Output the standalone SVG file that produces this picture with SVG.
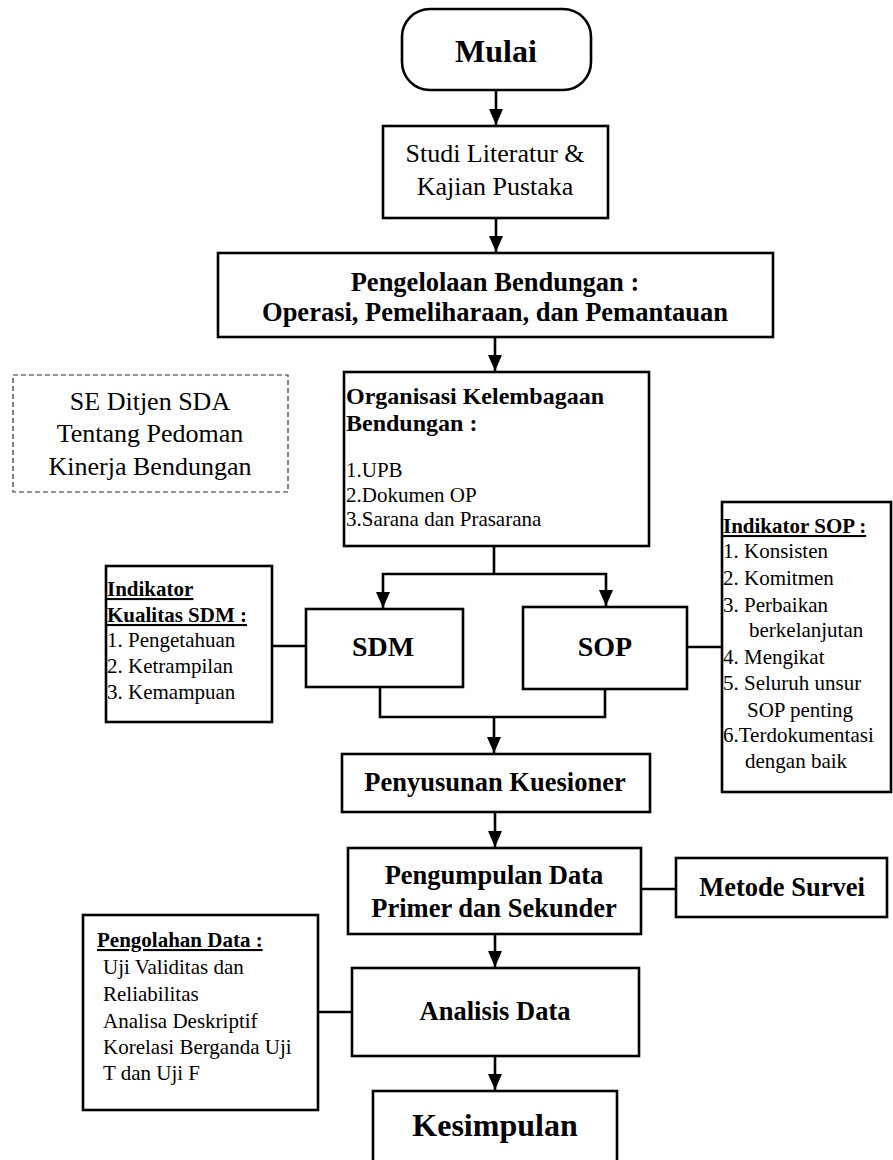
<svg xmlns="http://www.w3.org/2000/svg" width="893" height="1160" viewBox="0 0 893 1160" font-family="'Liberation Serif', 'Times New Roman', 'DejaVu Serif', serif">
<style>
text{font-family:'Liberation Serif','Times New Roman','DejaVu Serif',serif;fill:#000}
.box{fill:#fff;stroke:#000;stroke-width:2.6}
.dash{fill:#fff;stroke:#333;stroke-width:1.2;stroke-dasharray:5 3}
.b{font-weight:bold}
.m{font-size:26.5px;text-anchor:middle}
.r26{font-size:26px;text-anchor:middle}
.s{font-size:21px}
.u{text-decoration:underline}
.ln{fill:none;stroke:#000;stroke-width:2.6}
.ar{fill:none;stroke:#000;stroke-width:2.6;marker-end:url(#ah)}
</style>
<defs>
<marker id="ah" markerUnits="userSpaceOnUse" markerWidth="16" markerHeight="14" refX="16" refY="7" orient="auto" viewBox="0 0 16 14">
<path d="M0,0 L16,7 L0,14 Z" fill="#000"/>
</marker>
</defs>
<rect width="893" height="1160" fill="#fff"/>

<g id="mulai">
<rect class="box" x="402" y="9" width="189" height="81" rx="28" ry="28"/>
<text class="b" x="496" y="62" font-size="32" text-anchor="middle">Mulai</text>
</g>

<g id="studi">
<rect class="box" x="383" y="126" width="225" height="92"/>
<text class="r26" x="495" y="162">Studi Literatur &amp;</text>
<text class="r26" x="495" y="195">Kajian Pustaka</text>
</g>

<g id="pengelolaan">
<rect class="box" x="218" y="253" width="555" height="84"/>
<text class="b m" x="495" y="291">Pengelolaan Bendungan :</text>
<text class="b m" x="495" y="321">Operasi, Pemeliharaan, dan Pemantauan</text>
</g>

<g id="se-ditjen">
<rect class="dash" x="13" y="375" width="275" height="117"/>
<text class="r26" x="150" y="410">SE Ditjen SDA</text>
<text class="r26" x="150" y="442">Tentang Pedoman</text>
<text class="r26" x="150" y="475">Kinerja Bendungan</text>
</g>

<g id="organisasi">
<rect class="box" x="344" y="372" width="305" height="174"/>
<text class="b" x="346" y="404" font-size="24">Organisasi Kelembagaan</text>
<text class="b" x="346" y="431" font-size="24">Bendungan :</text>
<text class="s" x="346" y="477">1.UPB</text>
<text class="s" x="346" y="502">2.Dokumen OP</text>
<text class="s" x="346" y="526">3.Sarana dan Prasarana</text>
</g>

<g id="indikator-sdm">
<rect class="box" x="106" y="566" width="166" height="156"/>
<text class="s b u" x="107" y="596">Indikator</text>
<text class="s b u" x="107" y="622">Kualitas SDM :</text>
<text class="s" x="107" y="647">1. Pengetahuan</text>
<text class="s" x="107" y="673">2. Ketrampilan</text>
<text class="s" x="107" y="699">3. Kemampuan</text>
</g>

<g id="sdm">
<rect class="box" x="306" y="609" width="157" height="78"/>
<text class="b" x="383" y="656" font-size="28" text-anchor="middle">SDM</text>
</g>

<g id="sop">
<rect class="box" x="523" y="607" width="164" height="82"/>
<text class="b" x="605" y="656" font-size="28" text-anchor="middle">SOP</text>
</g>

<g id="indikator-sop">
<rect class="box" x="722" y="502" width="169" height="290"/>
<text class="s b u" x="723" y="533">Indikator SOP :</text>
<text class="s" x="723" y="558">1. Konsisten</text>
<text class="s" x="723" y="585">2. Komitmen</text>
<text class="s" x="723" y="612">3. Perbaikan</text>
<text class="s" x="749" y="637">berkelanjutan</text>
<text class="s" x="723" y="664">4. Mengikat</text>
<text class="s" x="723" y="690">5. Seluruh unsur</text>
<text class="s" x="747" y="717">SOP penting</text>
<text class="s" x="723" y="742">6.Terdokumentasi</text>
<text class="s" x="745" y="768">dengan baik</text>
</g>

<g id="penyusunan">
<rect class="box" x="342" y="754" width="308" height="58"/>
<text class="b m" x="495" y="791">Penyusunan Kuesioner</text>
</g>

<g id="pengumpulan">
<rect class="box" x="348" y="848" width="293" height="86"/>
<text class="b m" x="494" y="884">Pengumpulan Data</text>
<text class="b m" x="494" y="917">Primer dan Sekunder</text>
</g>

<g id="metode">
<rect class="box" x="676" y="858" width="211" height="59"/>
<text class="b m" x="782" y="896">Metode Survei</text>
</g>

<g id="pengolahan">
<rect class="box" x="83" y="915" width="235" height="195"/>
<text class="s b u" x="97" y="947">Pengolahan Data :</text>
<text class="s" x="103" y="974">Uji Validitas dan</text>
<text class="s" x="103" y="1001">Reliabilitas</text>
<text class="s" x="103" y="1028">Analisa Deskriptif</text>
<text class="s" x="103" y="1054">Korelasi Berganda Uji</text>
<text class="s" x="103" y="1080">T dan Uji F</text>
</g>

<g id="analisis">
<rect class="box" x="352" y="968" width="287" height="88"/>
<text class="b m" x="495" y="1020">Analisis Data</text>
</g>

<g id="kesimpulan">
<rect class="box" x="373" y="1091" width="244" height="90"/>
<text class="b" x="495" y="1136" font-size="32" text-anchor="middle">Kesimpulan</text>
</g>

<g id="connectors">
<line class="ar" x1="496" y1="90" x2="496" y2="125"/>
<line class="ar" x1="496" y1="218" x2="496" y2="252"/>
<line class="ar" x1="495" y1="337" x2="495" y2="371"/>
<polyline class="ln" points="494,546 494,574"/>
<polyline class="ar" points="494,574 383,574 383,608"/>
<polyline class="ar" points="494,574 606,574 606,606"/>
<line class="ln" x1="272" y1="646" x2="306" y2="646"/>
<line class="ln" x1="687" y1="647" x2="722" y2="647"/>
<polyline class="ln" points="380,687 380,717 605,717 605,689"/>
<line class="ar" x1="494" y1="717" x2="494" y2="753"/>
<line class="ar" x1="495" y1="812" x2="495" y2="847"/>
<line class="ln" x1="641" y1="889" x2="676" y2="889"/>
<line class="ar" x1="495" y1="934" x2="495" y2="967"/>
<line class="ln" x1="318" y1="1012" x2="352" y2="1012"/>
<line class="ar" x1="495" y1="1056" x2="495" y2="1090"/>
</g>
</svg>
